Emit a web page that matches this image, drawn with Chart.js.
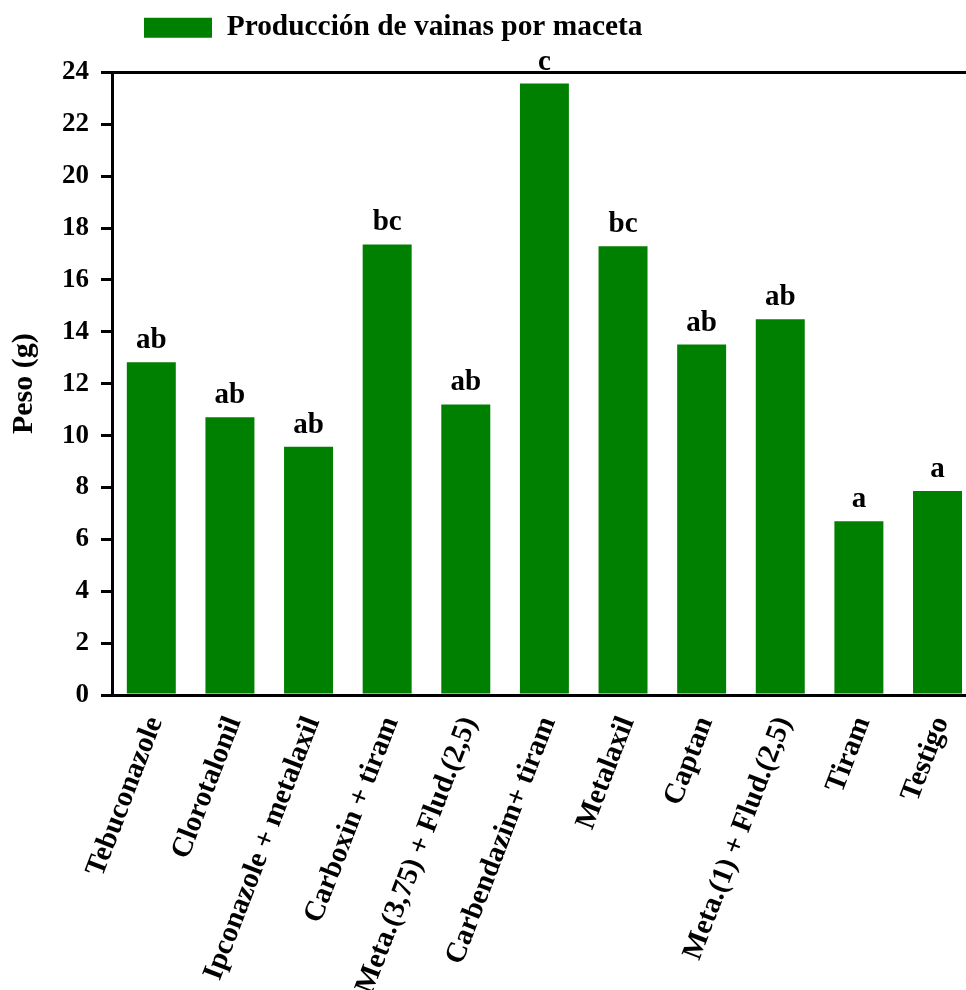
<!DOCTYPE html>
<html>
<head>
<meta charset="utf-8">
<script src="https://cdn.jsdelivr.net/npm/chart.js@4.4.1/dist/chart.umd.min.js"></script>
<style>
  html, body { margin: 0; padding: 0; overflow: hidden; background: #fff; }
  #wrap { width: 987px; height: 990px; }
</style>
</head>
<body>
<div id="wrap"><canvas id="chart" width="987" height="990"></canvas></div>
<script>
// treatments and mean pod weight per pot (g)
const treatments = [
    'Tebuconazole',
    'Clorotalonil',
    'Ipconazole + metalaxil',
    'Carboxin + tiram',
    'Meta.(3,75) + Flud.(2,5)',
    'Carbendazim+ tiram',
    'Metalaxil',
    'Captan',
    'Meta.(1) + Flud.(2,5)',
    'Tiram',
    'Testigo'
];
const podWeight = [12.83, 10.71, 9.57, 17.37, 11.20, 23.57, 17.30, 13.51, 14.48, 6.70, 7.86];
const groupLetters = ['ab', 'ab', 'ab', 'bc', 'ab', 'c', 'bc', 'ab', 'ab', 'a', 'a'];

const seriesName = 'Producción de vainas por maceta';
const yTitle = 'Peso (g)';
const yMin = 0;
const yMax = 24;
const yStep = 2;

const FONT_FAMILY = '"Liberation Serif", "Times New Roman", Times, serif';
const BAR_GREEN = '#008000';

// significance letters above each bar
const letterLabels = {
    id: 'letterLabels',
    afterDatasetsDraw(chart) {
        const { ctx } = chart;
        const meta = chart.getDatasetMeta(0);
        ctx.save();
        ctx.font = 'bold 29px ' + FONT_FAMILY;
        ctx.fillStyle = '#000';
        ctx.textAlign = 'center';
        ctx.textBaseline = 'alphabetic';
        meta.data.forEach((bar, i) => {
            ctx.fillText(groupLetters[i], bar.x, bar.y - 14);
        });
        ctx.restore();
    }
};

// legend sits left of centre and a bit higher than the default box
const legendShift = {
    id: 'legendShift',
    afterLayout(chart) {
        let legend = chart.legend;
        legend.left += 134;
        legend.right += 134;
        legend.top -= 20;
        legend.bottom -= 20;
    }
};

new Chart(document.getElementById('chart'), {
    type: 'bar',
    data: {
        labels: treatments,
        datasets: [{
            label: seriesName,
            data: podWeight,
            backgroundColor: BAR_GREEN,
            borderWidth: 0,
            categoryPercentage: 1,
            barPercentage: 0.623
        }]
    },
    options: {
        responsive: false,
        animation: false,
        layout: { padding: { top: 23, left: 0, right: 0, bottom: 0 } },
        plugins: {
            tooltip: { enabled: false },
            legend: {
                position: 'top',
                align: 'start',
                labels: {
                    boxWidth: 68,
                    boxHeight: 20,
                    padding: 10,
                    color: '#000',
                    font: { family: FONT_FAMILY, size: 29.4, weight: 'bold' }
                }
            }
        },
        scales: {
            x: {
                grid: { display: false, drawTicks: false },
                border: { display: true, color: '#000', width: 3 },
                ticks: {
                    autoSkip: false,
                    minRotation: 69,
                    maxRotation: 69,
                    padding: 17,
                    labelOffset: 4,
                    color: '#000',
                    font: { family: FONT_FAMILY, size: 29, weight: 'bold' }
                },
                afterFit: (scale) => { scale.height = 295; }
            },
            y: {
                min: yMin,
                max: yMax,
                ticks: {
                    stepSize: yStep,
                    padding: 12,
                    color: '#000',
                    font: { family: FONT_FAMILY, size: 27, weight: 'bold' }
                },
                grid: {
                    color: (ctx) => (ctx.tick && ctx.tick.value === yMax ? '#000' : 'rgba(0,0,0,0)'),
                    tickColor: '#000',
                    lineWidth: 3,
                    tickLength: 11
                },
                border: { display: true, color: '#000', width: 3 },
                title: {
                    display: true,
                    text: yTitle,
                    color: '#000',
                    padding: { top: 6, bottom: 0 },
                    font: { family: FONT_FAMILY, size: 30, weight: 'bold' }
                },
                afterFit: (scale) => { scale.width = 112; }
            }
        }
    },
    plugins: [letterLabels, legendShift]
});
</script>
</body>
</html>
